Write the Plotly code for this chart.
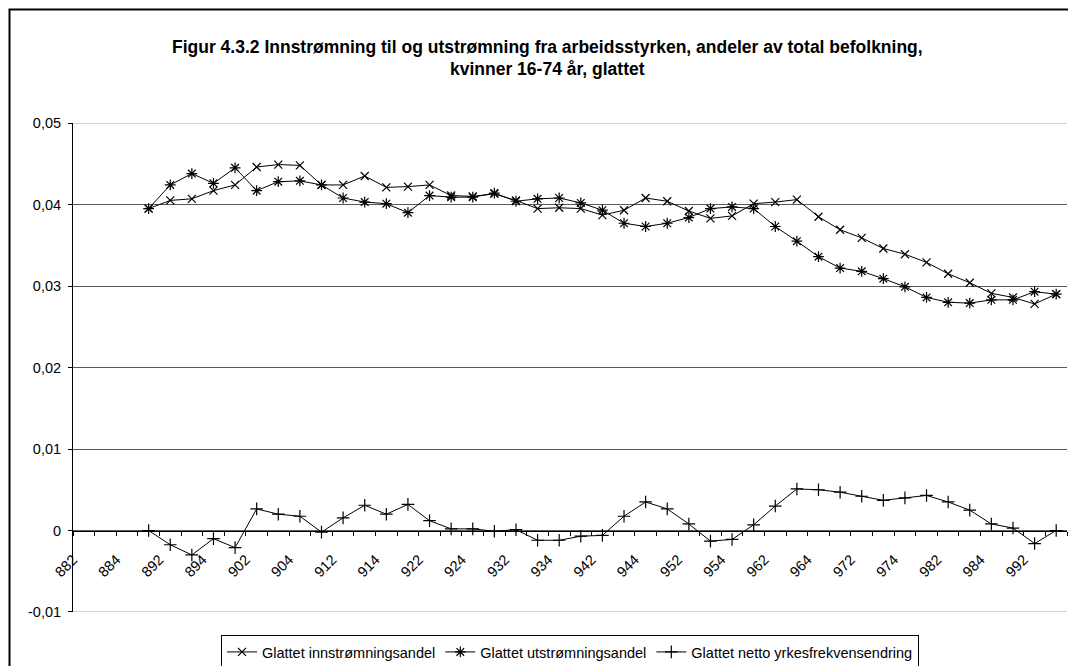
import plotly.graph_objects as go

# ---- data ----
quarters = [882, 883, 884,
            891, 892, 893, 894,
            901, 902, 903, 904,
            911, 912, 913, 914,
            921, 922, 923, 924,
            931, 932, 933, 934,
            941, 942, 943, 944,
            951, 952, 953, 954,
            961, 962, 963, 964,
            971, 972, 973, 974,
            981, 982, 983, 984,
            991, 992, 993]

innstromning = [None, None, None,
                0.0395, 0.0405, 0.0407, 0.0417, 0.0424, 0.0446, 0.0449, 0.0448,
                0.0424, 0.0424, 0.0435, 0.0421, 0.0422, 0.0424, 0.0411, 0.0410,
                0.0413, 0.0405, 0.0395, 0.0396, 0.0395, 0.0387, 0.0393, 0.0408,
                0.0404, 0.0392, 0.0383, 0.0386, 0.0401, 0.0403, 0.0406, 0.0385,
                0.0369, 0.0359, 0.0346, 0.0339, 0.0329, 0.0315, 0.0304, 0.0291,
                0.0286, 0.0278, 0.0290]

utstromning = [None, None, None,
               0.0395, 0.0424, 0.0438, 0.0426, 0.0445, 0.0417, 0.0428, 0.0429,
               0.0424, 0.0408, 0.0403, 0.0401, 0.0390, 0.0411, 0.0409, 0.0409,
               0.0414, 0.0404, 0.0407, 0.0408, 0.0402, 0.0393, 0.0377, 0.0373,
               0.0377, 0.0384, 0.0395, 0.0397, 0.0395, 0.0373, 0.0355, 0.0336,
               0.0322, 0.0318, 0.0309, 0.0299, 0.0286, 0.0280, 0.0279, 0.0283,
               0.0283, 0.0293, 0.0290]

netto = [None, None, None,
         0.0000, -0.00175, -0.0030, -0.0010, -0.0021, 0.00265, 0.0020, 0.00175,
         -0.0002, 0.00155, 0.0031, 0.0020, 0.0032, 0.0012, 0.0002, 0.0002,
         -0.0001, 0.0001, -0.0012, -0.0012, -0.0007, -0.0006, 0.00175, 0.0035,
         0.00265, 0.0008, -0.0013, -0.0011, 0.0007, 0.0030, 0.0051, 0.0050,
         0.0047, 0.0042, 0.0037, 0.0040, 0.0043, 0.0035, 0.0025, 0.0008,
         0.0003, -0.0016, 0.0000]

series_names = ["Glattet innstrømningsandel",
                "Glattet utstrømningsandel",
                "Glattet netto yrkesfrekvensendring"]

y_tick_values = [-0.01, 0.0, 0.01, 0.02, 0.03, 0.04, 0.05]
y_tick_labels = ["-0,01", "0", "0,01", "0,02", "0,03", "0,04", "0,05"]

title_lines = ["Figur 4.3.2 Innstrømning til og utstrømning fra arbeidsstyrken, andeler av total befolkning,",
               "kvinner 16-74 år, glattet"]

# ---- layout geometry (pixels) ----
OFF = 8                      # page body margin
W, H = 1076 - OFF, 666 - OFF
ML, MR, MT, MB = 65, 9, 115, 54
PW, PH = W - ML - MR, H - MT - MB
FONT = "Liberation Sans, Arial, sans-serif"
FS = 14.5


def px_x(p):            # screenshot pixel -> paper x
    return (p - OFF - ML) / PW


def px_y(p):            # screenshot pixel -> paper y
    return (H - MB - (p - OFF)) / PH


n = len(quarters)
xpos = [i + 0.5 for i in range(n)]          # category centres
tickvals = list(range(n + 1))               # category boundaries
ticktext = [str(quarters[i]) if (i < n and i % 2 == 0) else "" for i in tickvals]

ymin, ymax = y_tick_values[0], y_tick_values[-1]
eps = 1e-6

fig = go.Figure()
styles = [
    ("x-thin", 8),
    ("asterisk", 9),
    ("cross-thin", 9),
]
for name, vals, (sym, size) in zip(series_names, [innstromning, utstromning, netto], styles):
    fig.add_trace(go.Scatter(
        x=xpos, y=vals, name=name, mode="lines+markers",
        line=dict(color="black", width=1),
        marker=dict(symbol=sym, size=size, color="black",
                    line=dict(color="black", width=1.2)),
        connectgaps=False,
    ))

fig.update_layout(
    width=W, height=H,
    margin=dict(l=ML, r=MR, t=MT, b=MB, autoexpand=False),
    paper_bgcolor="white", plot_bgcolor="white",
    font=dict(family=FONT, size=FS, color="black"),
    showlegend=True,
    legend=dict(orientation="h", x=0.5, xanchor="center",
                y=px_y(635), yanchor="top",
                bordercolor="black", borderwidth=1, bgcolor="white",
                font=dict(size=FS), tracegroupgap=0, itemwidth=30),
    xaxis=dict(range=[0, n], tickvals=tickvals, ticktext=ticktext,
               tickangle=-45, ticks="outside", ticklen=4, tickcolor="black",
               showline=True, linecolor="black", linewidth=1,
               showgrid=False, zeroline=False,
               anchor="free", position=(0 - ymin) / (ymax - ymin),
               ticklabelstandoff=10,
               tickfont=dict(size=FS)),
    yaxis=dict(range=[ymin - eps, ymax + eps], tickvals=y_tick_values, ticktext=y_tick_labels,
               ticks="outside", ticklen=4, tickcolor="black",
               showline=True, linecolor="black", linewidth=1,
               showgrid=True, gridcolor="#5a5a5a", gridwidth=1,
               zeroline=False, ticklabelstandoff=4, tickfont=dict(size=FS)),
)

# gridlines at the two ends of the value axis (plotly omits them at the edges)
for yv in (ymin, ymax):
    fig.add_shape(type="line", xref="paper", yref="y", x0=0, x1=1, y0=yv, y1=yv,
                  line=dict(color="#a8a8a8", width=1), layer="below")

for line, py in zip(title_lines, [47, 69]):
    fig.add_annotation(text="<b>" + line + "</b>", xref="paper", yref="paper",
                       x=px_x(547), y=px_y(py), xanchor="center", yanchor="middle",
                       showarrow=False, font=dict(family=FONT, size=17.5, color="black"))

# chart-area frame (only left & top edges fall inside the picture)
fig.add_shape(type="rect", xref="paper", yref="paper",
              x0=px_x(9.5), x1=px_x(1100), y0=px_y(700), y1=px_y(9.5),
              line=dict(color="black", width=2), fillcolor="rgba(0,0,0,0)")

fig.write_html("out.html")
